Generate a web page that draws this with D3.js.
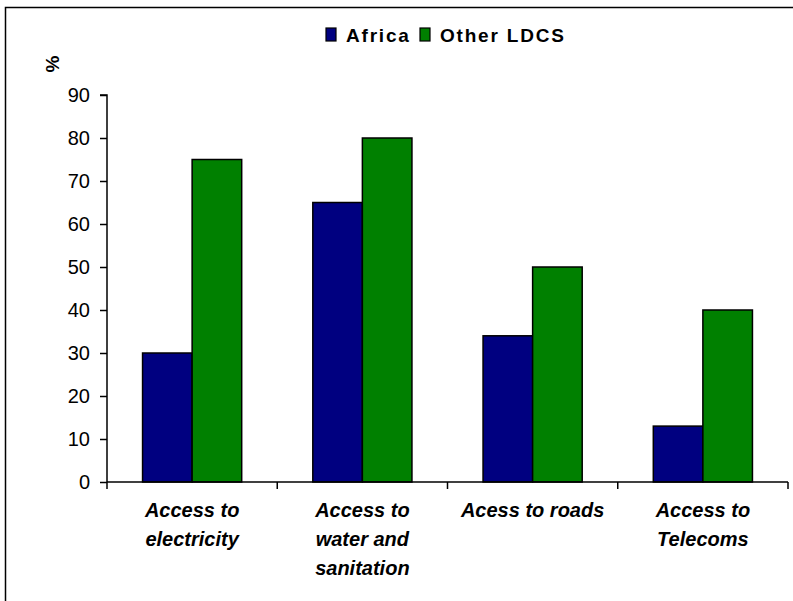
<!DOCTYPE html>
<html><head><meta charset="utf-8">
<script src="https://cdn.jsdelivr.net/npm/d3@7"></script>
<style>body{margin:0;background:#fff;}svg{display:block;font-family:"Liberation Sans",Arial,sans-serif;}</style>
</head><body>
<script>
const categories = [["Access to","electricity"],["Access to","water and","sanitation"],["Acess to roads"],["Access to","Telecoms"]];
const seriesNames = ["Africa","Other LDCS"];
const africa = [30,65,34,13];
const otherLDCS = [75,80,50,40];
const yTicks = [0,10,20,30,40,50,60,70,80,90];
const colors = ["#000080","#008000"];

const W=793,H=601;
const svg=d3.select("body").append("svg").attr("width",W).attr("height",H);
svg.append("rect").attr("x",5.5).attr("y",7.5).attr("width",W).attr("height",H).attr("fill","#fff").attr("stroke","#000").attr("stroke-width",1.5);

const x0=107,x1=788,yTop=95,yBot=482;
const idx=categories.map((d,i)=>i);
const x=d3.scaleBand().domain(idx).range([x0,x1]).paddingInner(0).paddingOuter(0);
const bw=x.bandwidth();
const gw=bw*99/170;
const xs=d3.scaleBand().domain([0,1]).range([0,gw]);
const y=d3.scaleLinear().domain([0,90]).range([yBot,yTop]);

const series=[africa,otherLDCS];
series.forEach((vals,s)=>{
  svg.append("g").selectAll("rect").data(vals).enter().append("rect")
    .attr("x",(d,i)=>x(i)+(bw-gw)/2+xs(s))
    .attr("y",d=>y(d)).attr("width",xs.bandwidth()).attr("height",d=>yBot-y(d))
    .attr("fill",colors[s]).attr("stroke","#000").attr("stroke-width",1.5);
});

// y axis
const ya=svg.append("g").attr("transform",`translate(${x0},0)`)
 .call(d3.axisLeft(y).tickValues(yTicks).tickSize(7).tickPadding(10).tickFormat(d3.format("d")));
ya.select(".domain").attr("stroke","#000").attr("stroke-width",1.5).attr("d",`M-7,${yTop}H0V${yBot}`);
ya.selectAll(".tick line").attr("stroke","#000").attr("stroke-width",1.5);
ya.selectAll("text").attr("font-size",20).attr("fill","#000").attr("font-family","Liberation Sans, Arial, sans-serif");

// x axis
const boundaries=[x0].concat(idx.map(i=>x(i)+bw));
const xa=svg.append("g");
xa.append("line").attr("x1",x0).attr("x2",x1).attr("y1",yBot).attr("y2",yBot).attr("stroke","#000").attr("stroke-width",1.5);
xa.selectAll("line.t").data(boundaries).enter().append("line").attr("class","t")
  .attr("x1",d=>d).attr("x2",d=>d).attr("y1",yBot).attr("y2",yBot+7).attr("stroke","#000").attr("stroke-width",1.5);
categories.forEach((lines,i)=>{
  const t=svg.append("text").attr("text-anchor","middle").attr("font-size",20).attr("font-weight","bold").attr("font-style","italic");
  lines.forEach((l,j)=>t.append("tspan").attr("x",x(i)+bw/2).attr("y",517+j*29).text(l));
});

// % label
svg.append("text").attr("transform","translate(59,64) rotate(-90)").attr("text-anchor","middle")
  .attr("font-size",19).attr("font-weight","bold").text("%");

// legend
const lg=svg.append("g");
const items=[{n:seriesNames[0],c:colors[0],x:326},{n:seriesNames[1],c:colors[1],x:420}];
items.forEach(it=>{
  lg.append("rect").attr("x",it.x).attr("y",28).attr("width",10).attr("height",13).attr("fill",it.c).attr("stroke","#000").attr("stroke-width",1.2);
  lg.append("text").attr("x",it.x+20).attr("y",42).attr("font-size",19).attr("font-weight","bold").attr("letter-spacing",1.8).text(it.n);
});
</script>
</body></html>
